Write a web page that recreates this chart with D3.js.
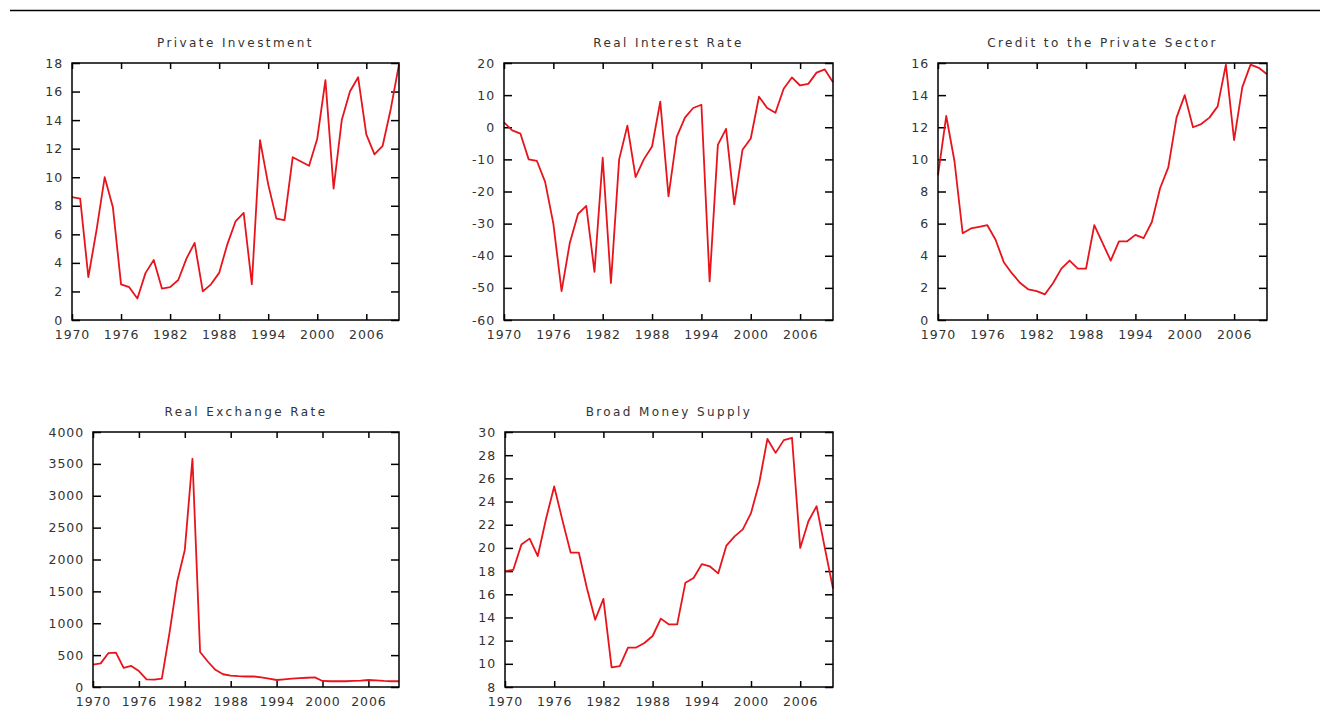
<!DOCTYPE html>
<html>
<head>
<meta charset="utf-8">
<script src="https://cdn.jsdelivr.net/npm/d3@7"></script>
<style>
  body { margin: 0; background: #fff; }
  text { font-family: "DejaVu Sans", Verdana, sans-serif; fill: #333; }
</style>
</head>
<body>
<script>
// yearly series 1970-2010
var years = d3.range(1970, 2011);
var xTickYears = [1970, 1976, 1982, 1988, 1994, 2000, 2006];

var privateInvestment = [
  8.6, 8.5, 3.0, 6.3, 10.0, 7.9, 2.5, 2.3, 1.5, 3.3,
  4.2, 2.2, 2.3, 2.8, 4.3, 5.4, 2.0, 2.5, 3.3, 5.3,
  6.9, 7.5, 2.5, 12.6, 9.5, 7.1, 7.0, 11.4, 11.1, 10.8,
  12.7, 16.8, 9.2, 14.0, 16.0, 17.0, 13.0, 11.6, 12.2, 14.8,
  17.9
];
var realInterestRate = [
  1.5, -1, -2, -10, -10.5, -17, -30, -51, -36, -27,
  -24.5, -45, -9.5, -48.5, -10, 0.5, -15.5, -10, -6, 8,
  -21.5, -3, 3, 6, 7, -48, -5.5, -0.5, -24, -7,
  -3.5, 9.5, 6, 4.5, 12, 15.5, 13, 13.5, 17, 18,
  14
];
var creditPrivate = [
  9.0, 12.7, 9.9, 5.4, 5.7, 5.8, 5.9, 5.0, 3.6, 2.9,
  2.3, 1.9, 1.8, 1.6, 2.3, 3.2, 3.7, 3.2, 3.2, 5.9,
  4.8, 3.7, 4.9, 4.9, 5.3, 5.1, 6.1, 8.2, 9.5, 12.6,
  14.0, 12.0, 12.2, 12.6, 13.3, 15.9, 11.2, 14.5, 15.9, 15.7,
  15.3
];
var realExchangeRate = [
  350, 370, 530, 540, 300, 330, 250, 120, 115, 130,
  850, 1650, 2150, 3580, 550, 400, 270, 200, 180, 170,
  165, 165, 150, 130, 110, 120, 130, 140, 145, 150,
  95, 90, 90, 90, 95, 100, 110, 105, 95, 90,
  90
];
var broadMoney = [
  18.0, 18.1, 20.3, 20.8, 19.3, 22.5, 25.3, 22.4, 19.6, 19.6,
  16.5, 13.8, 15.6, 9.7, 9.8, 11.4, 11.4, 11.8, 12.4, 13.9,
  13.4, 13.4, 17.0, 17.4, 18.6, 18.4, 17.8, 20.2, 21.0, 21.6,
  23.0, 25.6, 29.4, 28.2, 29.3, 29.5, 20.0, 22.3, 23.6, 20.0,
  16.5
];

var titles = ["Private Investment", "Real Interest Rate", "Credit to the Private Sector",
              "Real Exchange Rate", "Broad Money Supply"];
var yDomains = [[0, 18], [-60, 20], [0, 16], [0, 4000], [8, 30]];
var yTicks = [
  [0, 2, 4, 6, 8, 10, 12, 14, 16, 18],
  [-60, -50, -40, -30, -20, -10, 0, 10, 20],
  [0, 2, 4, 6, 8, 10, 12, 14, 16],
  [0, 500, 1000, 1500, 2000, 2500, 3000, 3500, 4000],
  [8, 10, 12, 14, 16, 18, 20, 22, 24, 26, 28, 30]
];
var series = [privateInvestment, realInterestRate, creditPrivate, realExchangeRate, broadMoney];

// plot frames (left, top, right, bottom) in page pixels
var frames = [
  [72, 63, 399, 320],
  [504, 63, 833, 320],
  [938, 63, 1267, 320],
  [93, 432, 399, 687],
  [505, 432, 833, 687]
];

var width = 1320, height = 711;

var svg = d3.select("body").append("svg")
    .attr("width", width)
    .attr("height", height);

// rule across the top of the page
svg.append("line")
    .attr("x1", 10).attr("x2", width)
    .attr("y1", 10.5).attr("y2", 10.5)
    .attr("stroke", "#000")
    .attr("stroke-width", 1.5);

frames.forEach(function(f, i){
    drawPanel(f, titles[i], series[i], yDomains[i], yTicks[i]);
});

function plain(d){ return String(d); }  //gnuplot style hyphen minus

function drawPanel(f, title, values, yDomain, ticks){
    var x = d3.scaleLinear().domain([1970, 2010]).range([f[0], f[2]]);
    var y = d3.scaleLinear().domain(yDomain).range([f[3], f[1]]);
    var g = svg.append("g");

    // labelled bottom/left axes, mirrored ticks on top/right, all inward
    var xAxisB = d3.axisBottom(x).tickValues(xTickYears).tickFormat(plain)
        .tickSizeInner(-6).tickSizeOuter(0).tickPadding(10);
    var xAxisT = d3.axisTop(x).tickValues(xTickYears).tickFormat("")
        .tickSizeInner(-6).tickSizeOuter(0);
    var yAxisL = d3.axisLeft(y).tickValues(ticks).tickFormat(plain)
        .tickSizeInner(-8).tickSizeOuter(0).tickPadding(9);
    var yAxisR = d3.axisRight(y).tickValues(ticks).tickFormat("")
        .tickSizeInner(-8).tickSizeOuter(0);

    g.append("g").attr("transform", "translate(0," + f[3] + ")").call(xAxisB);
    g.append("g").attr("transform", "translate(0," + f[1] + ")").call(xAxisT);
    g.append("g").attr("transform", "translate(" + f[0] + ",0)").call(yAxisL);
    g.append("g").attr("transform", "translate(" + f[2] + ",0)").call(yAxisR);

    g.selectAll(".domain").remove();
    g.selectAll(".tick line").attr("stroke", "#000").attr("stroke-width", 1.5);
    g.selectAll(".tick text")
        .style("font-size", "12.5px")
        .style("letter-spacing", "0.9px")
        .attr("fill", "#333");

    // series line
    var line = d3.line()
        .x(function(d, k){ return x(years[k]); })
        .y(function(d){ return y(d); });

    g.append("path")
        .datum(values)
        .attr("d", line)
        .attr("fill", "none")
        .attr("stroke", "#e8141c")
        .attr("stroke-width", 1.8)
        .attr("stroke-linejoin", "round");

    // frame
    g.append("rect")
        .attr("x", f[0]).attr("y", f[1])
        .attr("width", f[2] - f[0]).attr("height", f[3] - f[1])
        .attr("fill", "none")
        .attr("stroke", "#000")
        .attr("stroke-width", 1.5);

    g.append("text")
        .attr("x", (f[0] + f[2]) / 2)
        .attr("y", f[1] - 16)
        .attr("text-anchor", "middle")
        .style("font-size", "12px")
        .style("letter-spacing", "2.4px")
        .attr("fill", "#444")
        .text(title);
}
</script>
</body>
</html>
